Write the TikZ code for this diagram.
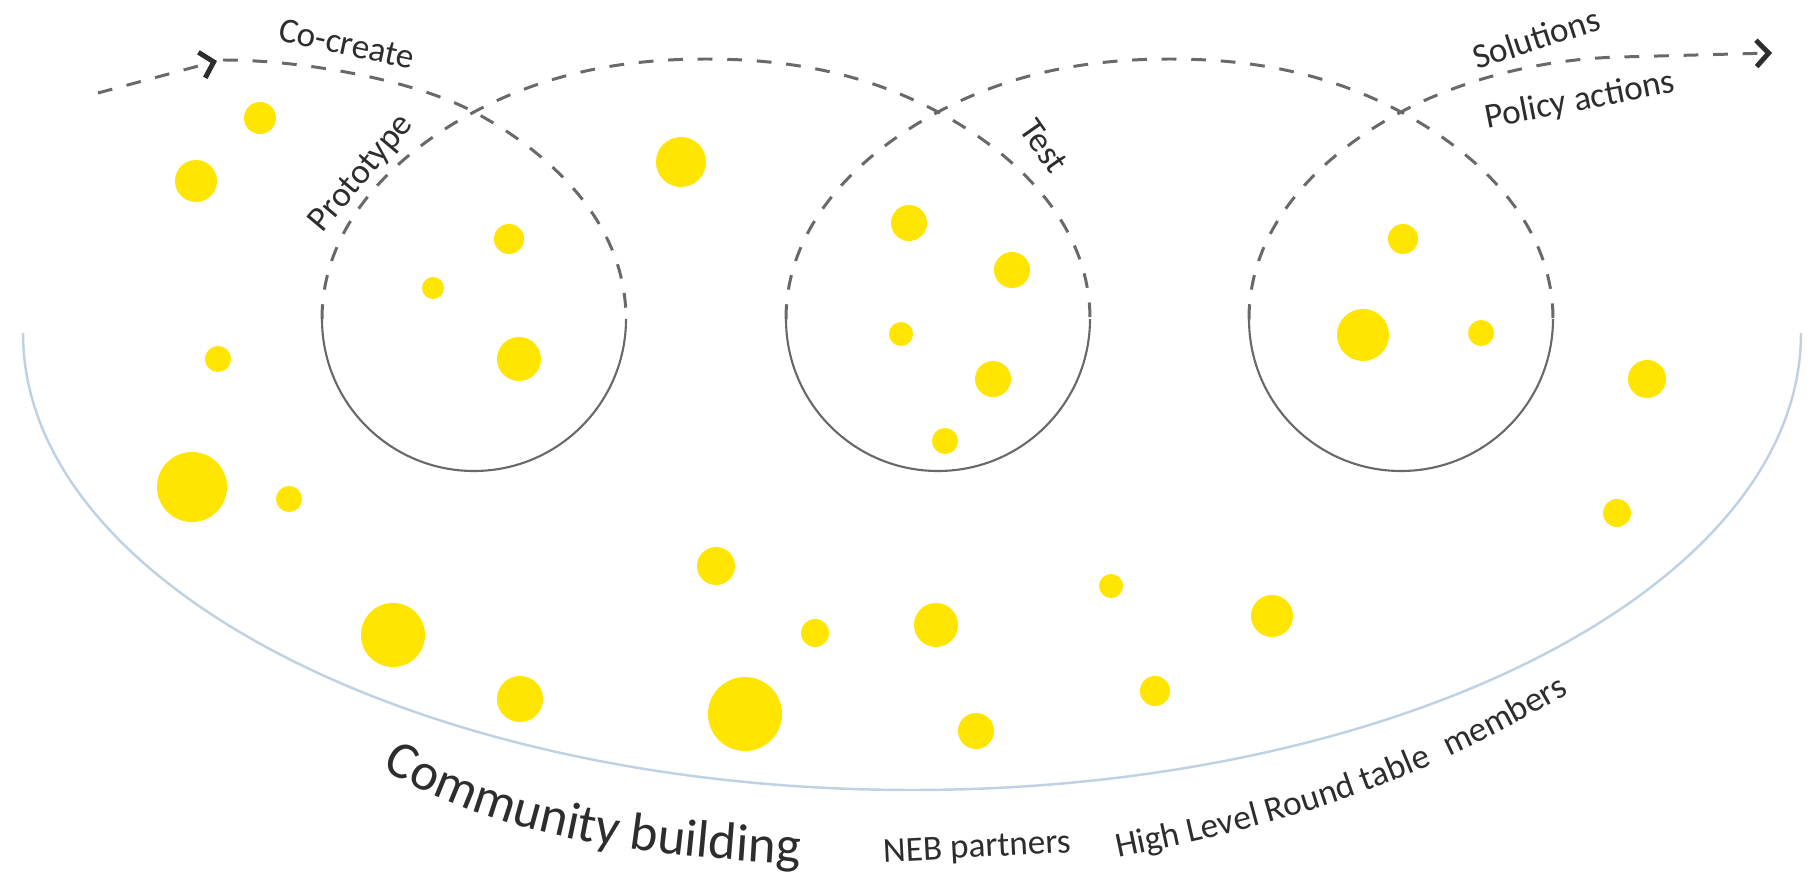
\documentclass[tikz,border=0pt]{standalone}
\usepackage{fontspec}
\setmainfont{Carlito}
\usetikzlibrary{arrows.meta, decorations.text}
\definecolor{nebyellow}{RGB}{255,229,0}
\definecolor{nebgrey}{RGB}{105,105,105}
\definecolor{nebrim}{RGB}{190,210,228}
\definecolor{nebtext}{RGB}{45,45,45}

\begin{document}
\begin{tikzpicture}[x=0.01cm, y=-0.01cm,
        dot/.style={circle, fill=nebyellow, inner sep=0pt},
        flow/.style={draw=nebgrey, line width=0.85pt, dash pattern=on 4.2pt off 4.2pt},
        ring/.style={draw=nebgrey, line width=0.6pt},
        chevron/.style={-{Straight Barb[length=3.5pt, width=7.5pt, line width=1.4pt, color=nebtext]}},
        lbl/.style={font=\fontsize{10}{12}\selectfont, text=nebtext, inner sep=0pt}]

        \useasboundingbox (0,0) rectangle (1811,879);

        % community
        \draw[nebrim, line width=0.7pt] (23,333) arc[start angle=180, end angle=0, x radius=889, y radius=457];

        % loop points
        \coordinate (A0) at (98,93);
        \coordinate (A1) at (217,61);
        \coordinate (S) at (223,60);
        \coordinate (X1) at (474,112);
        \coordinate (R1) at (626,319);
        \coordinate (L1) at (322,319);
        \coordinate (T12) at (706,59);
        \coordinate (X2) at (938,112);
        \coordinate (R2) at (1090,319);
        \coordinate (L2) at (786,319);
        \coordinate (T23) at (1170,59);
        \coordinate (X3) at (1401,112);
        \coordinate (R3) at (1553,319);
        \coordinate (L3) at (1249,319);
        \coordinate (E) at (1620,57);
        \coordinate (A2) at (1772,53);

        \draw[flow, chevron] (A0) -- (A1);
        \draw[flow] (S) .. controls +(80,0) and +(-60,-32) .. (X1) .. controls +(75,40) and +(0,-97) .. (R1);
        \draw[ring] (R1) arc[start angle=0, end angle=180, radius=152];
        \draw[flow] (L1) .. controls +(0,-97) and +(-75,40) .. (X1) .. controls +(60,-32) and +(-100,0) .. (T12)
            .. controls +(100,0) and +(-60,-32) .. (X2) .. controls +(75,40) and +(0,-97) .. (R2);
        \draw[ring] (R2) arc[start angle=0, end angle=180, radius=152];
        \draw[flow] (L2) .. controls +(0,-97) and +(-75,40) .. (X2) .. controls +(60,-32) and +(-100,0) .. (T23)
            .. controls +(100,0) and +(-60,-32) .. (X3) .. controls +(75,40) and +(0,-97) .. (R3);
        \draw[ring] (R3) arc[start angle=0, end angle=180, radius=152];
        \draw[flow, chevron] (L3) .. controls +(0,-97) and +(-75,40) .. (X3) .. controls +(60,-32) and +(-80,2) .. (E) -- (A2);

        % people
        \node[dot, minimum size=3.2mm] (P1) at (260,118) {};
        \node[dot, minimum size=4.2mm] (P2) at (196,181) {};
        \node[dot, minimum size=5.0mm] (P3) at (681,162) {};
        \node[dot, minimum size=3.0mm] (P4) at (509,239) {};
        \node[dot, minimum size=2.2mm] (P5) at (433,288) {};
        \node[dot, minimum size=4.4mm] (P6) at (519,359) {};
        \node[dot, minimum size=2.6mm] (P7) at (218,359) {};
        \node[dot, minimum size=7.0mm] (P8) at (192,487) {};
        \node[dot, minimum size=2.6mm] (P9) at (289,499) {};
        \node[dot, minimum size=3.6mm] (P10) at (909,223) {};
        \node[dot, minimum size=3.6mm] (P11) at (1012,270) {};
        \node[dot, minimum size=2.4mm] (P12) at (901,334) {};
        \node[dot, minimum size=3.6mm] (P13) at (993,379) {};
        \node[dot, minimum size=2.6mm] (P14) at (945,441) {};
        \node[dot, minimum size=3.0mm] (P15) at (1403,239) {};
        \node[dot, minimum size=5.2mm] (P16) at (1363,335) {};
        \node[dot, minimum size=2.6mm] (P17) at (1481,333) {};
        \node[dot, minimum size=3.8mm] (P18) at (1647,379) {};
        \node[dot, minimum size=2.8mm] (P19) at (1617,513) {};
        \node[dot, minimum size=3.8mm] (P20) at (716,566) {};
        \node[dot, minimum size=6.4mm] (P21) at (393,635) {};
        \node[dot, minimum size=4.6mm] (P22) at (520,699) {};
        \node[dot, minimum size=7.4mm] (P23) at (745,714) {};
        \node[dot, minimum size=2.8mm] (P24) at (815,633) {};
        \node[dot, minimum size=4.4mm] (P25) at (936,625) {};
        \node[dot, minimum size=3.6mm] (P26) at (976,731) {};
        \node[dot, minimum size=2.4mm] (P27) at (1111,586) {};
        \node[dot, minimum size=3.0mm] (P28) at (1155,691) {};
        \node[dot, minimum size=4.2mm] (P29) at (1272,616) {};

        % labels
        \node[lbl, rotate=-12] (cocreate) at (347,44) {Co-create};
        \node[lbl, rotate=50] (prototype) at (362,174) {Prototype};
        \node[lbl, rotate=-55] (test) at (1044,146) {Test};
        \node[lbl, rotate=18] (solutions) at (1536,38) {Solutions};
        \node[lbl, rotate=11] (policy) at (1580,101) {Policy actions};
        \node[lbl, rotate=3] (neb) at (977,849) {NEB partners};

        \path[decorate, decoration={text along path, text color=nebtext,
            text={|\fontsize{15}{18}\selectfont|Community building}}]
            (382,768) .. controls (500,840) and (660,862) .. (870,866);
        \path[decorate, decoration={text along path, text color=nebtext,
            text={|\fontsize{10}{12}\selectfont|High Level Round table{\hspace*{0.3em}} members}}]
            (1118,858) .. controls (1250,830) and (1430,795) .. (1650,640);
    \end{tikzpicture}
\end{document}
